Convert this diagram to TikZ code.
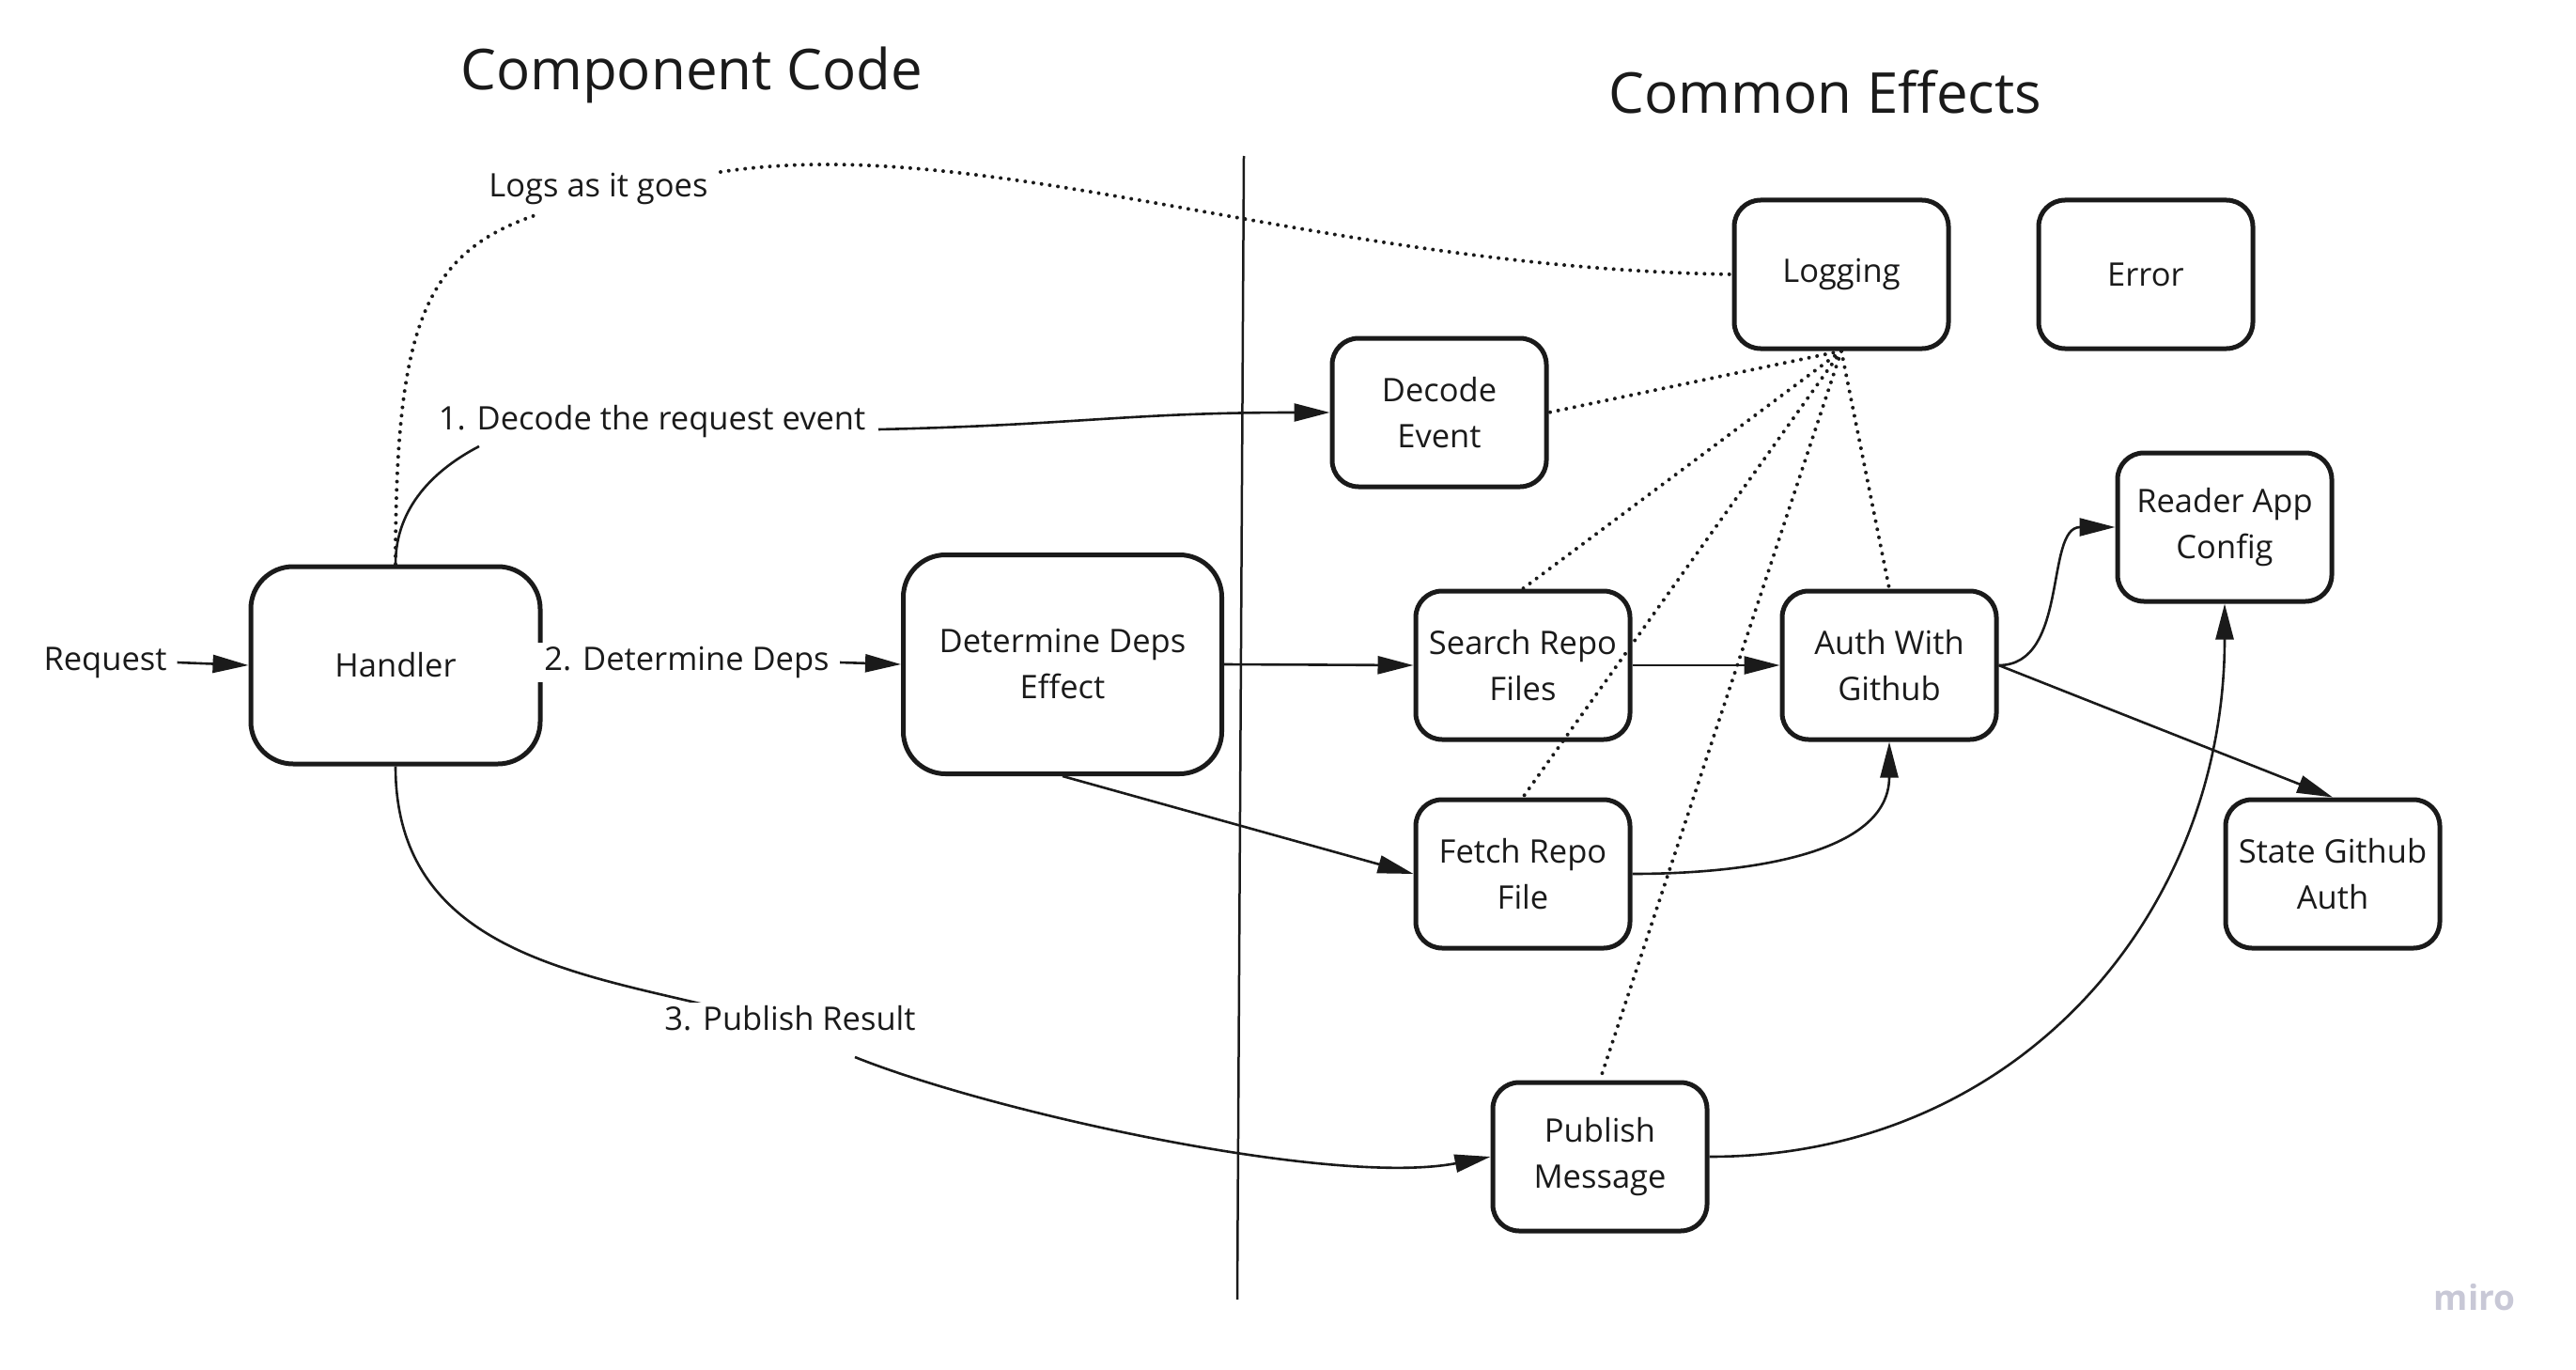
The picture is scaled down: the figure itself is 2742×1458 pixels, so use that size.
\documentclass[tikz,border=0pt]{standalone}
\usepackage{fontspec}
\setmainfont{Open Sans}
\usetikzlibrary{arrows.meta}
\pgfdeclarelayer{bg}
\pgfsetlayers{bg,main}
\definecolor{inkc}{HTML}{1A1A1A}
\definecolor{miroc}{RGB}{200,200,214}
\begin{document}
\begin{tikzpicture}[x=1pt,y=1pt,
  box/.style={draw=inkc, text=inkc, line width=5pt, rounded corners=28pt, minimum width=228pt, minimum height=158pt, align=center, font=\fontsize{34.5}{49}\selectfont, inner sep=0pt},
  bigbox/.style={box, rounded corners=45pt},
  lbl/.style={fill=white, text=inkc, font=\fontsize{34.5}{42}\selectfont, inner sep=4pt},
  conn/.style={draw=inkc, line width=2.6pt, -{Triangle[length=38pt,width=19pt]}},
  plainc/.style={draw=inkc, line width=2.6pt},
  dots/.style={draw=inkc, line width=4pt, line cap=round, dash pattern=on 0pt off 8.8pt},
  ttl/.style={text=inkc, font=\fontsize{60}{72}\selectfont}]
\useasboundingbox (0,0) rectangle (2742,-1458);

% titles
\node[ttl] (t1) at (736,-80) {Component Code};
\node[ttl] (t2) at (1943,-98) {Common Effects};

% divider
\coordinate (dv1) at (1324,-166);
\coordinate (dv2) at (1317,-1383);
\draw[inkc, line width=2.5pt] (dv1) -- (dv2);

% boxes
\node[bigbox, minimum width=308pt, minimum height=210pt] (handler) at (421,-708) {Handler};
\node[bigbox, minimum width=339pt, minimum height=233pt] (det) at (1131,-707) {Determine Deps\\Effect};
\node[box] (decode) at (1532,-439) {Decode\\Event};
\node[box] (logging) at (1960,-292) {Logging};
\node[box] (error) at (2284,-292) {Error};
\node[box] (reader) at (2368,-561) {Reader App\\Config};
\node[box] (search) at (1621,-708) {Search Repo\\Files};
\node[box] (auth) at (2011,-708) {Auth With\\Github};
\node[box] (fetch) at (1621,-930) {Fetch Repo\\File};
\node[box] (state) at (2483,-930) {State Github\\Auth};
\node[box] (pub) at (1703,-1231) {Publish\\Message};

% labels
\node[lbl, inner xsep=11pt] (req) at (112,-705) {Request};
\node[lbl, inner xsep=11pt] (l2) at (731,-705) {2. Determine Deps};
\node[lbl] (l1) at (694,-449) {1. Decode the request event};
\node[lbl] (l3) at (841,-1084) {3. Publish Result};
\node[lbl] (l0) at (637,-201) {Logs as it goes};

% free ends of the label-interrupted connectors
\coordinate (l1in) at (510,-475);
\coordinate (l1out) at (935,-457);
\coordinate (l3in) at (766,-1073);
\coordinate (l3out) at (910,-1125);
\coordinate (l0in) at (570,-229);
\coordinate (l0out) at (767,-183);

% miro mark
\node[text=miroc, font=\fontsize{37}{40}\selectfont\bfseries] (miro) at (2634,-1381) {miro};

\begin{pgfonlayer}{bg}
  % straight arrows
  \draw[conn] (req.east) -- (handler.west);
  \draw[conn] (l2.east) -- (det.west);
  \draw[conn] (det.east) -- (search.west);
  \draw[conn] (det.south) -- (fetch.west);
  \draw[conn] (search.east) -- (auth.west);
  \draw[conn] (auth.east) -- (state.north);
  % curved arrows
  \draw[conn] (fetch.east) to[out=0,in=-90] (auth.south);
  \draw[conn] (auth.east) to[out=0,in=180] (reader.west);
  \draw[conn] (pub.east) to[out=0,in=-90, looseness=1.05] (reader.south);
  % handler -> decode
  \draw[plainc] (handler.north) .. controls (421,-540) and (462,-500) .. (l1in);
  \draw[conn] (l1out) .. controls (1150,-452) and (1200,-439) .. (decode.west);
  % handler -> publish
  \draw[plainc] (handler.south) .. controls (421,-1010) and (610,-1035) .. (l3in);
  \draw[conn] (l3out) .. controls (1060,-1185) and (1420,-1263) .. (pub.west);
  % logging dotted
  \draw[dots] (handler.north) .. controls (421,-350) and (450,-270) .. (l0in);
  \draw[dots] (l0out) .. controls (1050,-140) and (1400,-285) .. (logging.west);
  \draw[dots] (logging.south) -- (decode.east);
  \draw[dots] (logging.south) -- (search.north);
  \draw[dots] (logging.south) -- (fetch.north);
  \draw[dots] (logging.south) -- (auth.north);
  \draw[dots] (logging.south) -- (pub.north);
\end{pgfonlayer}
\end{tikzpicture}
\end{document}
